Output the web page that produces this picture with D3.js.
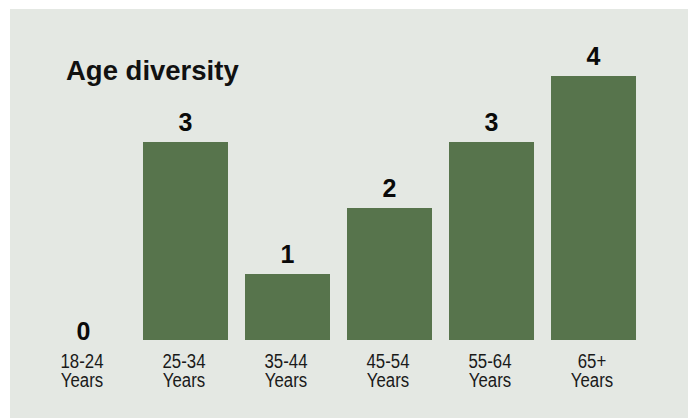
<!DOCTYPE html>
<html>
<head>
<meta charset="utf-8">
<script src="https://cdn.jsdelivr.net/npm/d3@7"></script>
<style>
  html, body { margin: 0; padding: 0; background: #ffffff; }
  svg { display: block; }
</style>
</head>
<body>
<svg id="chart" width="688" height="419"></svg>
<script>
const title = "Age diversity";
const ageRanges = ["18-24", "25-34", "35-44", "45-54", "55-64", "65+"];
const unitLabel = "Years";
const values = [0, 3, 1, 2, 3, 4];
const yDomain = [0, 4];

const W = 688, H = 419;
const svg = d3.select("#chart");

// panel background
svg.append("rect")
  .attr("x", 10).attr("y", 9)
  .attr("width", W - 10).attr("height", H - 10)
  .attr("fill", "#e4e8e3");

const x = d3.scaleBand()
  .domain(ageRanges)
  .range([32.5, 644.5])
  .paddingInner(17 / 102)
  .paddingOuter(0.0833);

const y = d3.scaleLinear().domain(yDomain).range([340, 76]);

// title
svg.append("text")
  .attr("x", 66).attr("y", 80)
  .attr("font-family", "'Liberation Sans', Arial, sans-serif")
  .attr("font-weight", "bold")
  .attr("font-size", 27.5)
  .attr("fill", "#111")
  .text(title);

// bars
svg.append("g").selectAll("rect")
  .data(values)
  .join("rect")
  .attr("x", (d, i) => x(ageRanges[i]))
  .attr("y", d => y(d))
  .attr("width", x.bandwidth())
  .attr("height", d => y(0) - y(d))
  .attr("fill", "#57744c");

// value labels
svg.append("g").selectAll("text")
  .data(values)
  .join("text")
  .attr("x", (d, i) => x(ageRanges[i]) + x.bandwidth() / 2)
  .attr("y", d => d > 0 ? y(d) - 11.5 : y(d))
  .attr("text-anchor", "middle")
  .attr("font-family", "'Liberation Sans', Arial, sans-serif")
  .attr("font-weight", "bold")
  .attr("font-size", 25)
  .attr("fill", "#0a0a0a")
  .text(d => d);

// category labels (two lines, condensed)
const cat = svg.append("g").selectAll("text")
  .data(ageRanges)
  .join("text")
  .attr("transform", d => `translate(${x(d) + x.bandwidth() / 2 - 1.5},0) scale(0.8,1)`)
  .attr("text-anchor", "middle")
  .attr("font-family", "'Liberation Sans', Arial, sans-serif")
  .attr("font-size", 21)
  .attr("fill", "#1a1a1a");

cat.append("tspan")
  .attr("x", 0).attr("y", 368.5)
  .text(d => d);

cat.append("tspan")
  .attr("x", 0).attr("y", 387.5)
  .text(unitLabel);
</script>
</body>
</html>
